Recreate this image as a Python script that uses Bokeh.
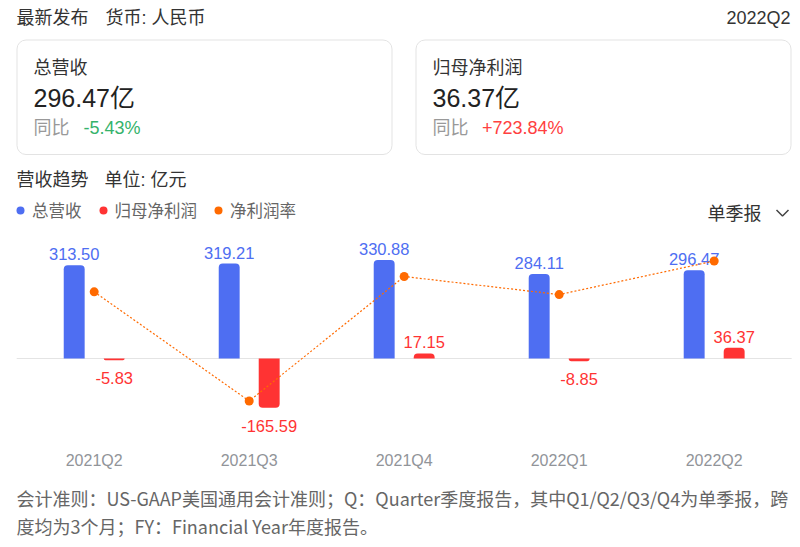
import numpy as np
from bokeh.plotting import figure
from bokeh.models import (Range1d, FixedTicker, ColumnDataSource, Legend, LegendItem,
                          CDSView, BooleanFilter)
from bokeh.layouts import column
from bokeh.embed import file_html
from bokeh.resources import INLINE
from bokeh.core.properties import value

# ---------------- data ----------------
quarters = ["2021Q2", "2021Q3", "2021Q4", "2022Q1", "2022Q2"]
revenue = [313.50, 319.21, 330.88, 284.11, 296.47]          # 总营收 (亿元)
net_profit = [-5.83, -165.59, 17.15, -8.85, 36.37]          # 归母净利润 (亿元)
net_margin = [-1.86, -51.87, 5.18, -3.11, 12.27]            # 净利润率 (%)

latest_period = "2022Q2"
card_titles = ["总营收", "归母净利润"]
card_values = ["296.47亿", "36.37亿"]
card_yoy = ["-5.43%", "+723.84%"]
series_names = ["总营收", "归母净利润", "净利润率"]
footnote = ["会计准则：US-GAAP美国通用会计准则；Q：Quarter季度报告，其中Q1/Q2/Q3/Q4为单季报，跨",
            "度均为3个月；FY：Financial Year年度报告。"]

# ---------------- styles ----------------
BLUE = "#4e6ef2"
RED = "#ff3333"
ORANGE = "#ff6a00"
GREEN = "#35b36b"
YOY_RED = "#ff4040"
MIX_S = "'Liberation Sans', 'Noto Sans CJK SC'"
MIX = value(MIX_S)
CJK = value("'Noto Sans CJK SC'")
NUM = value("Liberation Sans")

W = 800
HEAD_H, CH_H, FOOT_H = 232, 248, 67


def blank(height, y0, y1):
    p = figure(width=W, height=height, x_range=Range1d(0, W), y_range=Range1d(y1, y0),
               output_backend="svg", toolbar_location=None, min_border=0,
               x_axis_location=None, y_axis_location=None, outline_line_color=None)
    p.grid.visible = False
    return p


# ---------------- header ----------------
head = blank(HEAD_H, 0, HEAD_H)
head.text(x=[16, 105], y=[17, 17], text=["最新发布", "货币: 人民币"], text_font=MIX,
          text_font_size="18px", text_color="#333333", text_baseline="middle")
head.text(x=[790], y=[17], text=[latest_period], text_font=MIX, text_font_size="18px",
          text_color="#333333", text_baseline="middle", text_align="right")

head.quad(left=[16.5, 415.5], right=[391.5, 790.5], top=[39.5, 39.5], bottom=[154, 154],
          fill_color="white", line_color="#e3e3e3", line_width=1, border_radius=9)

cx = [33, 432]
head.text(x=cx, y=[67, 67], text=card_titles, text_font=MIX, text_font_size="18px",
          text_color="#333333", text_baseline="middle")
head.text(x=cx, y=[97, 97], text=card_values, text_font=MIX, text_font_size="25px",
          text_color="#222222", text_baseline="middle")
head.text(x=cx, y=[127, 127], text=["同比", "同比"], text_font=MIX, text_font_size="18px",
          text_color="#999999", text_baseline="middle")
head.text(x=[83, 481.5], y=[127, 127], text=card_yoy, text_font=MIX, text_font_size="18px",
          text_color=[GREEN, YOY_RED], text_baseline="middle")

head.text(x=[16, 104], y=[179, 179], text=["营收趋势", "单位: 亿元"], text_font=MIX,
          text_font_size="18px", text_color="#333333", text_baseline="middle")
head.text(x=[707], y=[213], text=["单季报"], text_font=MIX, text_font_size="18px",
          text_color="#333333", text_baseline="middle")
head.line(x=[776, 782, 788], y=[209.5, 215.5, 209.5], line_color="#444444", line_width=1.5)

# legend swatches: one point each, placed outside the visible range
leg_r = [head.scatter(x=[-1000], y=[-1000], marker="circle", size=8, fill_color=c,
                      line_color=None) for c in (BLUE, RED, ORANGE)]
legend = Legend(items=[LegendItem(label=value(n), renderers=[r]) for n, r in zip(series_names, leg_r)],
                orientation="horizontal", location=(10, 10), glyph_width=20, glyph_height=20,
                label_standoff=2, spacing=11, padding=0, margin=0, border_line_color=None,
                background_fill_alpha=0, label_text_font=MIX_S, label_text_font_size="16.5px",
                label_text_color="#666666")
head.add_layout(legend)

# ---------------- chart ----------------
n = len(quarters)
idx = np.arange(n)
BAR_W, OFF = 0.135, 0.129
np_arr = np.array(net_profit)
src = ColumnDataSource(dict(
    x_rev=idx - OFF, x_np=idx + OFF, rev=revenue,
    np_hi=np.maximum(np_arr, 0), np_lo=np.minimum(np_arr, 0), np_v=net_profit,
    rev_lbl=["%.2f" % v for v in revenue], np_lbl=["%.2f" % v for v in net_profit],
    np_off=[-11 if v >= 0 else 18 for v in net_profit],
))

chart = figure(width=W, height=CH_H, x_range=Range1d(-0.6045, 4.557),
               y_range=Range1d(-292.4, 423.5), output_backend="svg", toolbar_location=None,
               min_border_left=0, min_border_right=0, min_border_top=0, min_border_bottom=35,
               y_axis_location=None, outline_line_color=None)
chart.extra_y_ranges = {"pct": Range1d(-72.27, 25.34)}
chart.grid.visible = False

chart.segment(x0=[-0.5], x1=[n - 0.5], y0=[0], y1=[0], line_color="#e4e4e4", line_width=1)

chart.vbar(x="x_rev", top="rev", bottom=0, width=BAR_W, source=src, fill_color=BLUE,
           line_color=None, border_radius=(4, 4, 0, 0))
pos = [bool(v >= 0) for v in net_profit]
neg = [not b for b in pos]
chart.vbar(x="x_np", top="np_hi", bottom="np_lo", width=BAR_W, source=src,
           view=CDSView(filter=BooleanFilter(pos)), fill_color=RED, line_color=None,
           border_radius=(4, 4, 0, 0))
chart.vbar(x="x_np", top="np_hi", bottom="np_lo", width=BAR_W, source=src,
           view=CDSView(filter=BooleanFilter(neg)), fill_color=RED, line_color=None,
           border_radius=(0, 0, 4, 4))

chart.text(x="x_rev", y="rev", text="rev_lbl", source=src, text_align="center",
           text_baseline="middle", y_offset=-11, text_font=NUM, text_font_size="16.5px",
           text_color=BLUE)
chart.text(x="x_np", y="np_v", text="np_lbl", source=src, text_align="center",
           text_baseline="middle", y_offset="np_off", text_font=NUM, text_font_size="16.5px",
           text_color=RED)

chart.line(x=idx, y=net_margin, y_range_name="pct", line_color=ORANGE, line_width=1.2,
           line_dash="2 2")
chart.scatter(x=idx, y=net_margin, y_range_name="pct", size=9, marker="circle",
              fill_color=ORANGE, line_color=None)

ax = chart.xaxis[0]
ax.ticker = FixedTicker(ticks=[int(i) for i in idx])
ax.major_label_overrides = {int(i): q for i, q in enumerate(quarters)}
ax.axis_line_color = None
ax.major_tick_line_color = None
ax.minor_tick_line_color = None
ax.major_tick_out = 0
ax.major_tick_in = 0
ax.minor_tick_out = 0
ax.major_label_standoff = 6
ax.major_label_text_font = "Liberation Sans"
ax.major_label_text_font_size = "16px"
ax.major_label_text_color = "#919499"

# ---------------- footer ----------------
foot = blank(FOOT_H, 480, 547)
foot.text(x=[16, 16], y=[497, 525], text=footnote, text_font=CJK, text_font_size="18px",
          text_color="#666666", text_baseline="middle")

page = column(head, chart, foot)
open("out.html", "w").write(file_html(page, INLINE))
